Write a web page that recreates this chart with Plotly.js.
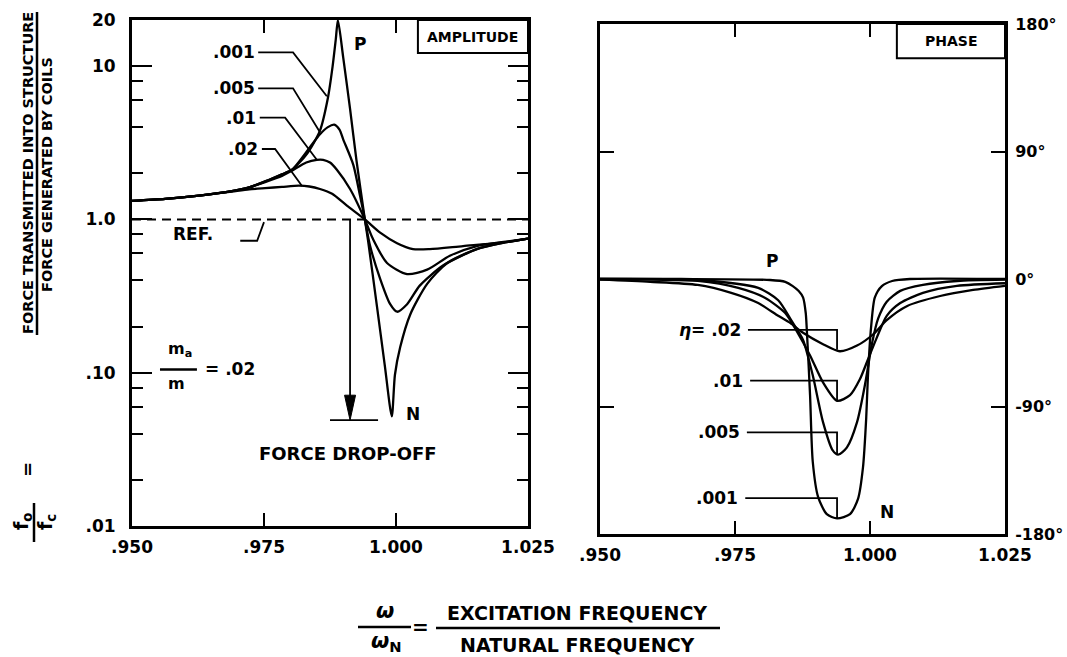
<!DOCTYPE html>
<html><head><meta charset="utf-8">
<script src="https://cdn.plot.ly/plotly-3.0.1.min.js"></script>
<style>html,body{margin:0;padding:0;background:#fff}#chart{width:1067px;height:657px}</style>
</head><body><div id="chart"></div>
<script>
// ---------- DATA ----------
const xTickVals = [0.950, 0.975, 1.000, 1.025];
const xTickText = ['.950', '.975', '1.000', '1.025'];
const ampTickVals = [0.01, 0.1, 1, 10, 20];
const ampTickText = ['.01', '.10', '1.0', '10', '20'];
const ampMinorVals = [0.02, 0.04, 0.06, 0.08, 0.2, 0.4, 0.6, 0.8, 2, 4, 6, 8];
const phaseTickVals = [-180, -90, 0, 90, 180];
const phaseTickText = ['-180°', '-90°', '0°', '90°', '180°'];
const etaLabels = ['.001', '.005', '.01', '.02'];

// Amplitude (f_o / f_c) vs frequency ratio, for eta = .001, .005, .01, .02
const ampX001 = [0.950, 0.9563, 0.9627, 0.9689, 0.9722, 0.9752, 0.9784, 0.9803, 0.9831, 0.9856, 0.9871, 0.9880, 0.9886, 0.9890, 0.9900, 0.9913, 0.9925, 0.9941, 0.9947, 0.9964, 0.9979, 0.9992, 0.9998, 1.0008, 1.0027, 1.0059, 1.0097, 1.0153, 1.0200, 1.0250];
const ampY001 = [1.32, 1.36, 1.43, 1.53, 1.62, 1.77, 1.97, 2.11, 2.67, 3.80, 6.2, 10.0, 15.0, 20.0, 11.4, 5.26, 2.45, 1.0, 0.73, 0.27, 0.11, 0.052, 0.097, 0.147, 0.24, 0.38, 0.52, 0.64, 0.70, 0.75];
const ampX005 = [0.950, 0.9563, 0.9627, 0.9689, 0.9722, 0.9752, 0.9784, 0.9803, 0.9837, 0.9856, 0.9871, 0.9883, 0.9893, 0.9900, 0.9919, 0.9932, 0.9941, 0.9951, 0.9970, 0.9989, 1.0002, 1.0021, 1.0045, 1.0089, 1.0153, 1.0200, 1.0250];
const ampY005 = [1.32, 1.36, 1.43, 1.53, 1.62, 1.77, 1.97, 2.11, 2.96, 3.59, 4.0, 4.15, 3.85, 3.33, 2.28, 1.42, 1.0, 0.67, 0.41, 0.28, 0.25, 0.28, 0.37, 0.50, 0.64, 0.70, 0.75];
const ampX01 = [0.950, 0.9563, 0.9627, 0.9689, 0.9722, 0.9752, 0.9784, 0.9803, 0.9830, 0.9850, 0.9862, 0.9875, 0.9888, 0.9913, 0.9941, 0.9956, 0.9983, 1.0021, 1.0059, 1.0102, 1.0153, 1.0200, 1.0250];
const ampY01 = [1.32, 1.36, 1.43, 1.53, 1.62, 1.75, 1.92, 2.08, 2.35, 2.45, 2.45, 2.35, 2.11, 1.58, 1.0, 0.75, 0.52, 0.44, 0.47, 0.58, 0.67, 0.71, 0.75];
const ampX02 = [0.950, 0.9563, 0.9627, 0.9689, 0.9722, 0.9752, 0.9784, 0.9816, 0.9836, 0.9856, 0.9879, 0.9907, 0.9941, 0.9970, 1.0002, 1.0032, 1.0064, 1.0127, 1.0191, 1.0250];
const ampY02 = [1.32, 1.36, 1.43, 1.52, 1.57, 1.60, 1.63, 1.66, 1.64, 1.58, 1.47, 1.23, 1.0, 0.82, 0.70, 0.64, 0.64, 0.67, 0.70, 0.75];

// Phase (degrees) vs frequency ratio
const phX001 = [0.950, 0.965, 0.9815, 0.9843, 0.9857, 0.9868, 0.9876, 0.9881, 0.9883, 0.9889, 0.9894, 0.9904, 0.9920, 0.9939, 0.9963, 0.9978, 0.9987, 0.9993, 0.9996, 1.0002, 1.0009, 1.0022, 1.0041, 1.0074, 1.025];
const phY001 = [0, 0, -0.7, -2, -5, -8.5, -13, -24, -36, -82, -129, -154, -166, -169, -166, -155, -133, -98, -70, -34, -13, -5, -1.4, 0, 0];
const phX005 = [0.950, 0.9681, 0.9793, 0.9830, 0.9854, 0.9867, 0.9876, 0.9894, 0.9913, 0.9931, 0.9941, 0.9957, 0.9976, 0.9991, 1.0004, 1.0015, 1.0031, 1.0056, 1.0098, 1.0161, 1.025];
const phY005 = [0, -0.7, -6.3, -15, -29, -37, -43, -68, -101, -121, -124, -119, -101, -74, -45, -28, -16, -8.4, -4.2, -1.4, -0.5];
const phX01 = [0.950, 0.9681, 0.9756, 0.9806, 0.9843, 0.9863, 0.9889, 0.9913, 0.9939, 0.9963, 0.9981, 0.9996, 1.0013, 1.0031, 1.0056, 1.0098, 1.0161, 1.025];
const phY01 = [0, -1.4, -6.3, -13.4, -24, -36, -54, -73, -86, -82, -71, -57, -41, -26, -17, -9.8, -4.9, -3];
const phX02 = [0.950, 0.9593, 0.9681, 0.9743, 0.9793, 0.9830, 0.9852, 0.9876, 0.9913, 0.9944, 0.9976, 1.0006, 1.0031, 1.0069, 1.0130, 1.0191, 1.025];
const phY02 = [-0.5, -2, -4.2, -9.8, -17, -26, -31, -38, -46, -51, -47, -39, -29, -19, -12, -7.7, -4.8];

// ---------- LAYOUT HELPERS ----------
const W = 1067, H = 657;
const FONT = 'DejaVu Sans';
const px = v => v / W;
const py = v => 1 - v / H;
const L10 = Math.log10;
const f = (size, extra) => Object.assign({family: FONT, size: size, color: '#000', weight: 700}, extra || {});

const curveLine = {color: '#000', width: 2.3, shape: 'spline', smoothing: 0.7};
function curve(x, y, xa, ya) {
  return {x: x, y: y, xaxis: xa, yaxis: ya, mode: 'lines', line: curveLine, hoverinfo: 'skip', showlegend: false};
}
function leader(x, y, xa, ya) {
  return {x: x, y: y, xaxis: xa, yaxis: ya, mode: 'lines', line: {color: '#000', width: 1.8}, hoverinfo: 'skip', showlegend: false};
}

const traces = [
  curve(ampX001, ampY001, 'x', 'y'),
  curve(ampX005, ampY005, 'x', 'y'),
  curve(ampX01, ampY01, 'x', 'y'),
  curve(ampX02, ampY02, 'x', 'y'),
  curve(phX001, phY001, 'x2', 'y2'),
  curve(phX005, phY005, 'x2', 'y2'),
  curve(phX01, phY01, 'x2', 'y2'),
  curve(phX02, phY02, 'x2', 'y2'),
  // amplitude label leaders
  leader([0.9739, 0.9805, 0.9869], [12.3, 12.3, 6.36], 'x', 'y'),
  leader([0.9739, 0.9805, 0.9856], [7.17, 7.17, 3.7], 'x', 'y'),
  leader([0.9742, 0.9790, 0.9850], [4.61, 4.61, 2.45], 'x', 'y'),
  leader([0.9746, 0.9771, 0.9822], [2.88, 2.88, 1.65], 'x', 'y'),
  // REF hook
  leader([0.9705, 0.9737, 0.9750], [0.726, 0.726, 0.96], 'x', 'y'),
  // force drop-off shaft and bar
  leader([0.9913, 0.9913], [1.0, 0.07], 'x', 'y'),
  leader([0.9875, 0.9966], [0.049, 0.049], 'x', 'y'),
  // phase label leaders
  leader([0.9774, 0.9939, 0.9939], [-35.9, -35.9, -50], 'x2', 'y2'),
  leader([0.9778, 0.9939, 0.9939], [-71.7, -71.7, -86], 'x2', 'y2'),
  leader([0.9772, 0.9939, 0.9939], [-108.3, -108.3, -124], 'x2', 'y2'),
  leader([0.9769, 0.9939, 0.9939], [-154.7, -154.7, -169], 'x2', 'y2')
];

function txt(text, x, y, xref, yref, size, extra) {
  return Object.assign({text: text, x: x, y: y, xref: xref, yref: yref, showarrow: false,
    font: f(size), xanchor: 'center', yanchor: 'middle'}, extra || {});
}

const annotations = [
  // amplitude panel labels
  txt(etaLabels[0], 0.9736, L10(12.3), 'x', 'y', 17, {xanchor: 'right'}),
  txt(etaLabels[1], 0.9736, L10(7.17), 'x', 'y', 17, {xanchor: 'right'}),
  txt(etaLabels[2], 0.9739, L10(4.61), 'x', 'y', 17, {xanchor: 'right'}),
  txt(etaLabels[3], 0.9743, L10(2.88), 'x', 'y', 17, {xanchor: 'right'}),
  txt('P', 0.9932, L10(13.9), 'x', 'y', 17),
  txt('REF.', 0.9615, L10(0.80), 'x', 'y', 17),
  txt('N', 1.0032, L10(0.054), 'x', 'y', 17),
  txt('FORCE DROP-OFF', 0.9909, L10(0.0295), 'x', 'y', 18),
  txt('m<sub>a</sub>', 0.9591, L10(0.142), 'x', 'y', 16),
  txt('m', 0.9585, L10(0.085), 'x', 'y', 16),
  txt('= .02', 0.9634, L10(0.105), 'x', 'y', 17, {xanchor: 'left'}),
  txt('AMPLITUDE', 0.861, 0.967, 'x domain', 'y domain', 14),
  // phase panel labels
  txt('<i>η</i>= .02', 0.9765, -35.9, 'x2', 'y2', 17, {xanchor: 'right'}),
  txt(etaLabels[2], 0.9769, -71.7, 'x2', 'y2', 17, {xanchor: 'right'}),
  txt(etaLabels[1], 0.9763, -108.3, 'x2', 'y2', 17, {xanchor: 'right'}),
  txt(etaLabels[0], 0.9760, -154.7, 'x2', 'y2', 17, {xanchor: 'right'}),
  txt('P', 0.9819, 12.7, 'x2', 'y2', 17),
  txt('N', 1.0031, -164.5, 'x2', 'y2', 17),
  txt('PHASE', 0.866, 0.967, 'x2 domain', 'y2 domain', 14),
  // left axis title (rotated fraction)
  txt('FORCE TRANSMITTED INTO STRUCTURE', px(28), py(173), 'paper', 'paper', 14.5, {textangle: -90}),
  txt('FORCE GENERATED BY COILS', px(47), py(175), 'paper', 'paper', 14.5, {textangle: -90}),
  txt('=', px(27), py(470), 'paper', 'paper', 18, {textangle: -90}),
  txt('f<sub>o</sub>', px(22), py(522), 'paper', 'paper', 19, {textangle: -90}),
  txt('f<sub>c</sub>', px(46), py(522), 'paper', 'paper', 19, {textangle: -90}),
  // bottom axis title (fraction)
  txt('<i>ω</i>', px(385), py(611), 'paper', 'paper', 21),
  txt('<i>ω</i><sub>N</sub>', px(386), py(642), 'paper', 'paper', 21),
  txt('=', px(420), py(627), 'paper', 'paper', 20),
  txt('EXCITATION FREQUENCY', px(577), py(613), 'paper', 'paper', 19),
  txt('NATURAL FREQUENCY', px(577), py(645), 'paper', 'paper', 19)
];

const black = {color: '#000', width: 2.5};
const shapes = [
  // REF dashed line at 1.0
  {type: 'line', xref: 'x domain', yref: 'y', x0: 0, x1: 1, y0: 1, y1: 1, line: {color: '#000', width: 2, dash: '9px,6px'}},
  // arrowhead of force drop-off
  {type: 'path', xref: 'x', yref: 'y', xsizemode: 'pixel', ysizemode: 'pixel', xanchor: 0.9913, yanchor: 0.049,
   path: 'M-5.5,25 L5.5,25 L0,0 Z', fillcolor: '#000', line: {color: '#000', width: 1}},
  // m_a / m fraction bar
  {type: 'line', xref: 'x', yref: 'y', x0: 0.9553, x1: 0.9623, y0: 0.105, y1: 0.105, line: black},
  // label boxes
  {type: 'rect', xref: 'x domain', yref: 'y domain', x0: 0.722, x1: 1, y0: 0.935, y1: 1, line: {color: '#000', width: 2}},
  {type: 'rect', xref: 'x2 domain', yref: 'y2 domain', x0: 0.733, x1: 1, y0: 0.933, y1: 1, line: {color: '#000', width: 2}},
  // y title fraction bars
  {type: 'line', xref: 'paper', yref: 'paper', x0: px(37), x1: px(37), y0: py(12), y1: py(335), line: black},
  {type: 'line', xref: 'paper', yref: 'paper', x0: px(34), x1: px(34), y0: py(503), y1: py(542), line: black},
  // x title fraction bars
  {type: 'line', xref: 'paper', yref: 'paper', x0: px(358), x1: px(411), y0: py(627), y1: py(627), line: black},
  {type: 'line', xref: 'paper', yref: 'paper', x0: px(436), x1: px(720), y0: py(628), y1: py(628), line: black}
];

const axBase = {
  showgrid: false, zeroline: false, showline: true, linewidth: 3, linecolor: '#000',
  mirror: 'allticks', ticks: 'inside', tickwidth: 2, tickcolor: '#000',
  tickfont: f(17), fixedrange: true
};

const layout = {
  width: W, height: H, margin: {l: 0, r: 0, t: 0, b: 0},
  paper_bgcolor: '#fff', plot_bgcolor: '#fff', showlegend: false,
  xaxis: Object.assign({}, axBase, {domain: [132 / W, 528 / W], range: [0.95, 1.025], anchor: 'y',
    tickmode: 'array', tickvals: xTickVals, ticktext: xTickText, ticklen: 13, ticklabelstandoff: 4}),
  yaxis: Object.assign({}, axBase, {domain: [1 - 526 / H, 1 - 20 / H], type: 'log', range: [-2, L10(20)], anchor: 'x',
    tickmode: 'array', tickvals: ampTickVals, ticktext: ampTickText, ticklen: 20, ticklabelstandoff: 10,
    minor: {tickmode: 'array', tickvals: ampMinorVals, ticklen: 11, tickwidth: 2, tickcolor: '#000', ticks: 'inside', showgrid: false}}),
  xaxis2: Object.assign({}, axBase, {domain: [600 / W, 1005 / W], range: [0.95, 1.025], anchor: 'y2',
    tickmode: 'array', tickvals: xTickVals, ticktext: xTickText, ticklen: 13, ticklabelstandoff: 4}),
  yaxis2: Object.assign({}, axBase, {domain: [1 - 534 / H, 1 - 24 / H], range: [-180, 180], anchor: 'x2', side: 'right',
    tickmode: 'array', tickvals: phaseTickVals, ticktext: phaseTickText, ticklen: 14, ticklabelstandoff: 4,
    tickfont: f(16)}),
  annotations: annotations,
  shapes: shapes
};

Plotly.newPlot('chart', traces, layout, {staticPlot: true, displayModeBar: false});
</script></body></html>
